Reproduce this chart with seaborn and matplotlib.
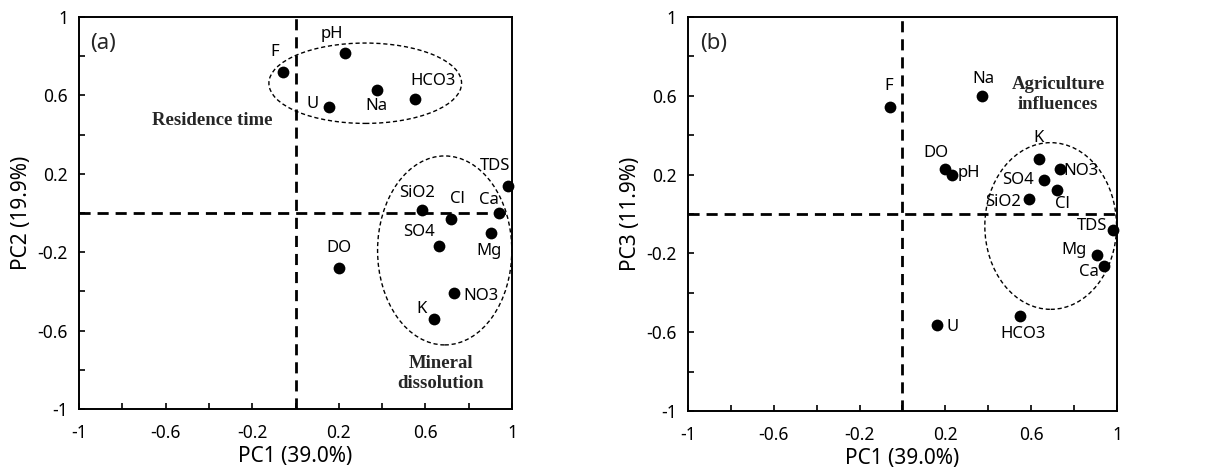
import matplotlib
matplotlib.use("Agg")
import matplotlib.pyplot as plt
from matplotlib.patches import Ellipse
import seaborn as sns
import pandas as pd

# ---------------- data ----------------
variables_a = ["F", "pH", "U", "Na", "HCO3", "TDS", "SiO2", "Cl", "Ca", "SO4", "Mg", "DO", "NO3", "K"]
pc1_a = [-0.06, 0.23, 0.155, 0.375, 0.55, 0.98, 0.585, 0.72, 0.94, 0.665, 0.905, 0.20, 0.73, 0.64]
pc2_a = [0.72, 0.815, 0.54, 0.63, 0.58, 0.14, 0.015, -0.03, 0.0, -0.17, -0.10, -0.28, -0.41, -0.54]

variables_b = ["F", "Na", "DO", "pH", "K", "NO3", "SO4", "Cl", "SiO2", "TDS", "Mg", "Ca", "U", "HCO3"]
pc1_b = [-0.06, 0.37, 0.20, 0.23, 0.635, 0.735, 0.66, 0.72, 0.59, 0.98, 0.905, 0.94, 0.16, 0.55]
pc3_b = [0.545, 0.60, 0.23, 0.20, 0.28, 0.23, 0.175, 0.12, 0.075, -0.08, -0.21, -0.265, -0.565, -0.52]

tick_values = [-1, -0.6, -0.2, 0.2, 0.6, 1]
tick_labels = ["-1", "-0.6", "-0.2", "0.2", "0.6", "1"]
minor_ticks = [-0.8, -0.4, 0.0, 0.4, 0.8]

xlabel = "PC1 (39.0%)"
ylabel_a = "PC2 (19.9%)"
ylabel_b = "PC3 (11.9%)"

# ---------------- layout / style ----------------
offsets_a = {"F": (-6, 14), "pH": (-10, 14), "U": (-12, 2), "Na": (0, -12), "HCO3": (13, 13),
             "TDS": (-9, 14), "SiO2": (-4, 12.5), "Cl": (4, 14), "Ca": (-7, 9), "SO4": (-15, 10),
             "Mg": (-2, -13), "DO": (0, 14), "NO3": (20, -2), "K": (-9, 7)}
offsets_b = {"F": (-1, 15), "Na": (1, 12), "DO": (-7, 11), "pH": (12, 1), "K": (0, 15),
             "NO3": (15, -2), "SO4": (-19, 0), "Cl": (3.6, -9.6), "SiO2": (-19, -2),
             "TDS": (-15, 3), "Mg": (-16, 4), "Ca": (-11, -4), "U": (11, -1), "HCO3": (2, -13)}

sns.set_theme(style="white")
plt.rcParams["font.family"] = ["Noto Sans", "DejaVu Sans"]

fig = plt.figure(figsize=(12.07, 4.69), dpi=100)
ax1 = fig.add_axes([0.0655, 0.1279, 0.3587, 0.8359])
ax2 = fig.add_axes([0.5700, 0.1237, 0.3554, 0.8401])

df_a = pd.DataFrame({"var": variables_a, "x": pc1_a, "y": pc2_a})
df_b = pd.DataFrame({"var": variables_b, "x": pc1_b, "y": pc3_b})


def style_axes(ax, ylabel):
    ax.set_xlim(-1, 1)
    ax.set_ylim(-1, 1)
    ax.axvline(0, color="black", lw=2.0, ls=(0, (4, 2.5)), zorder=1)
    ax.axhline(0, color="black", lw=2.0, ls=(0, (4, 2.5)), zorder=1)
    ax.set_xticks(tick_values)
    ax.set_xticklabels(tick_labels)
    ax.set_yticks(tick_values)
    ax.set_yticklabels(tick_labels)
    ax.set_xticks(minor_ticks, minor=True)
    ax.set_yticks(minor_ticks, minor=True)
    ax.tick_params(which="both", direction="in", length=4, width=1.2, color="black",
                   bottom=True, left=True, top=False, right=False)
    ax.tick_params(which="major", labelsize=12.5, labelcolor="black")
    ax.tick_params(axis="x", which="major", pad=11)
    ax.tick_params(axis="y", which="major", pad=8)
    ax.set_xlabel(xlabel, fontsize=15, color="black", labelpad=3)
    ax.set_ylabel(ylabel, fontsize=15, color="black", labelpad=4)
    for s in ax.spines.values():
        s.set_color("black")
        s.set_linewidth(1.4)


def draw_points(ax, df, offsets):
    sns.scatterplot(data=df, x="x", y="y", ax=ax, s=72, color="black",
                    edgecolor="black", linewidth=0, legend=False, zorder=3, clip_on=False)
    for name, xv, yv in zip(df["var"], df["x"], df["y"]):
        dx, dy = offsets[name]
        ax.annotate(name, (xv, yv), xytext=(dx, dy), textcoords="offset points",
                    ha="center", va="center", fontsize=12, color="black")


style_axes(ax1, ylabel_a)
draw_points(ax1, df_a, offsets_a)
ax1.add_patch(Ellipse((0.322, 0.662), 0.89, 0.41, fill=False, ec="black", lw=1.0,
                      ls=(0, (3, 2)), zorder=2))
ax1.add_patch(Ellipse((0.689, -0.191), 0.62, 0.964, fill=False, ec="black", lw=1.0,
                      ls=(0, (3, 2)), zorder=2))
ax1.text(-0.386, 0.47, "Residence time", family="Liberation Serif", weight="bold",
         fontsize=13.5, ha="center", va="center")
ax1.text(0.67, -0.82, "Mineral\ndissolution", family="Liberation Serif", weight="bold",
         fontsize=13.5, ha="center", va="center", linespacing=1.25)
ax1.text(-0.889, 0.867, "(a)", fontsize=16, ha="center", va="center")

style_axes(ax2, ylabel_b)
draw_points(ax2, df_b, offsets_b)
ax2.add_patch(Ellipse((0.691, -0.061), 0.614, 0.846, fill=False, ec="black", lw=1.0,
                      ls=(0, (3, 2)), zorder=2))
ax2.text(0.726, 0.607, "Agriculture\ninfluences", family="Liberation Serif", weight="bold",
         fontsize=13.5, ha="center", va="center", linespacing=1.25)
ax2.text(-0.882, 0.863, "(b)", fontsize=16, ha="center", va="center")

fig.savefig("out.png", dpi=100)
